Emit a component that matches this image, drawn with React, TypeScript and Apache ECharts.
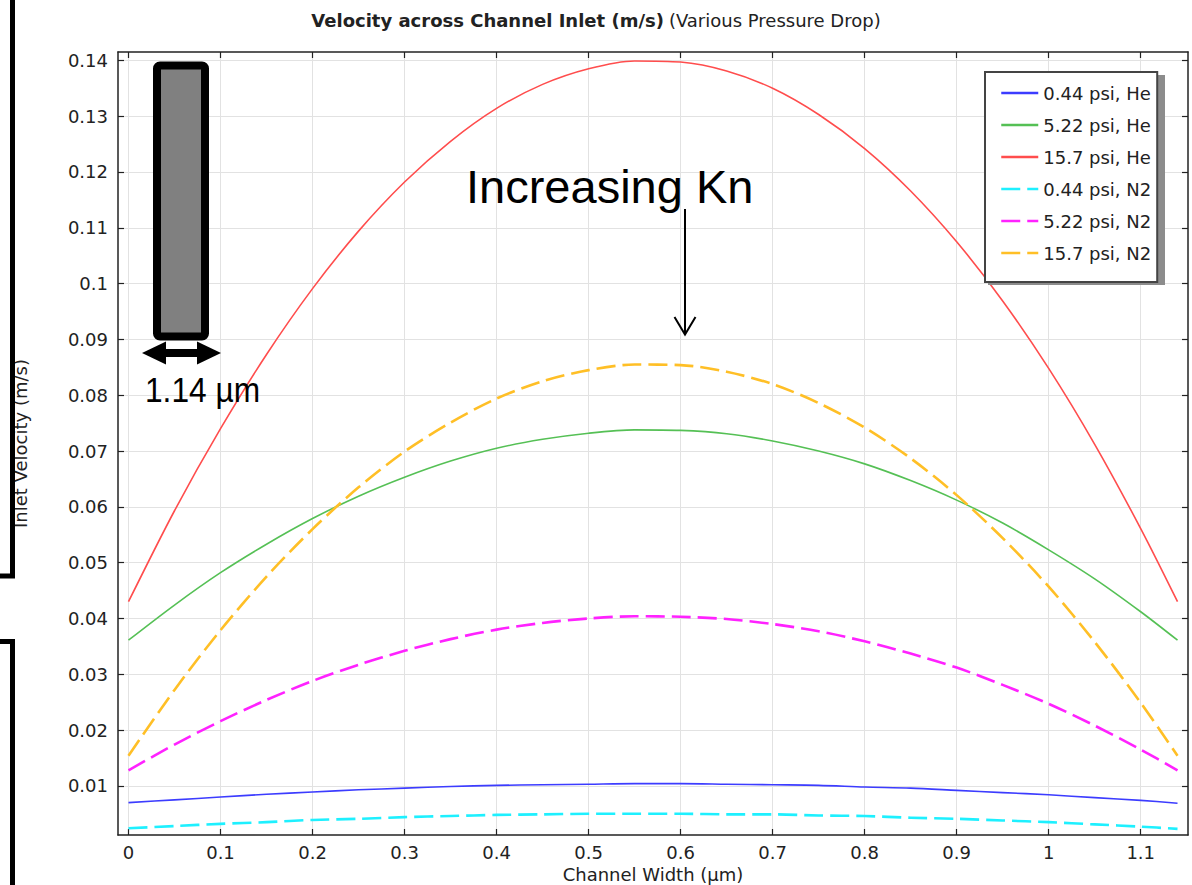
import React, { useEffect, useRef } from "react";
import * as echarts from "echarts";

// Channel width positions (µm)
const xValues = [0, 0.05, 0.1, 0.15, 0.2, 0.25, 0.3, 0.35, 0.4, 0.45, 0.5, 0.55, 0.6, 0.65, 0.7, 0.75, 0.8, 0.85, 0.9, 0.95, 1.0, 1.05, 1.1, 1.14];

// Inlet velocity (m/s)
const he044 = [0.0070, 0.0075, 0.0080, 0.0085, 0.0089, 0.0093, 0.0096, 0.0099, 0.0101, 0.0102, 0.0103, 0.0104, 0.0104, 0.0103, 0.0102, 0.0101, 0.0098, 0.0096, 0.0092, 0.0088, 0.0084, 0.0079, 0.0074, 0.0069];
const he522 = [0.0361, 0.0424, 0.0482, 0.0533, 0.0579, 0.0619, 0.0653, 0.0682, 0.0705, 0.0721, 0.0732, 0.0738, 0.0737, 0.0731, 0.0718, 0.0700, 0.0677, 0.0647, 0.0612, 0.0571, 0.0523, 0.0471, 0.0412, 0.0361];
const he157 = [0.0430, 0.0593, 0.0740, 0.0873, 0.0991, 0.1094, 0.1182, 0.1255, 0.1314, 0.1357, 0.1385, 0.1399, 0.1397, 0.1381, 0.1350, 0.1303, 0.1242, 0.1166, 0.1075, 0.0969, 0.0848, 0.0712, 0.0561, 0.0430];
const n2044 = [0.0024, 0.0028, 0.0032, 0.0035, 0.0039, 0.0041, 0.0044, 0.0046, 0.0048, 0.0049, 0.0050, 0.0050, 0.0050, 0.0049, 0.0049, 0.0047, 0.0046, 0.0043, 0.0041, 0.0038, 0.0035, 0.0031, 0.0027, 0.0023];
const n2522 = [0.0128, 0.0174, 0.0216, 0.0254, 0.0288, 0.0317, 0.0342, 0.0363, 0.0380, 0.0392, 0.0400, 0.0404, 0.0403, 0.0399, 0.0390, 0.0377, 0.0359, 0.0337, 0.0312, 0.0281, 0.0247, 0.0208, 0.0165, 0.0128];
const n2157 = [0.0154, 0.0272, 0.0379, 0.0475, 0.0560, 0.0635, 0.0699, 0.0751, 0.0794, 0.0825, 0.0845, 0.0855, 0.0854, 0.0842, 0.0820, 0.0786, 0.0742, 0.0687, 0.0621, 0.0544, 0.0457, 0.0358, 0.0249, 0.0154];

const seriesNames = ["0.44 psi, He", "5.22 psi, He", "15.7 psi, He", "0.44 psi, N2", "5.22 psi, N2", "15.7 psi, N2"];
const seriesValues = [he044, he522, he157, n2044, n2522, n2157];
const seriesColors = ["#3c3cff", "#55c055", "#ff4d4d", "#1ef0ff", "#ff22ff", "#ffbf26"];
const seriesDashed = [false, false, false, true, true, true];

const xTicks = [0, 0.1, 0.2, 0.3, 0.4, 0.5, 0.6, 0.7, 0.8, 0.9, 1, 1.1];
const yTicks = [0.01, 0.02, 0.03, 0.04, 0.05, 0.06, 0.07, 0.08, 0.09, 0.1, 0.11, 0.12, 0.13, 0.14];

const X_MIN = -0.0114;
const X_MAX = 1.1514;
const Y_MIN = 0.0012;
const Y_MAX = 0.1415;

const FONT = '"DejaVu Sans", sans-serif';
const TEXT = "#222";

export default function App() {
  const ref = useRef<HTMLDivElement>(null);

  useEffect(() => {
    if (!ref.current) return;
    const chart = echarts.init(ref.current, null, { renderer: "svg" });

    const axisLine = { show: true, onZero: false, lineStyle: { color: "#222", width: 1.5 } };
    const fmtX = (v: number) => String(parseFloat(Number(v).toFixed(1)));
    const fmtY = (v: number) => String(parseFloat(Number(v).toFixed(2)));

    const option: any = {
      animation: false,
      backgroundColor: "#fff",
      title: {
        left: "center",
        top: 6,
        text: "{b|Velocity across Channel Inlet (m/s)} {n|(Various Pressure Drop)}",
        textStyle: {
          rich: {
            b: { fontFamily: FONT, fontSize: 18, fontWeight: "bold", color: TEXT },
            n: { fontFamily: FONT, fontSize: 18, fontWeight: "normal", color: TEXT },
          },
        },
      },
      grid: { left: 118, right: 4, top: 52, bottom: 50, containLabel: false, outerBoundsMode: "none" },
      legend: {
        orient: "vertical",
        left: 985,
        top: 72,
        padding: [12, 6, 20, 15],
        itemGap: 14,
        itemWidth: 37,
        itemHeight: 14,
        backgroundColor: "#fff",
        borderColor: "#444",
        borderWidth: 2,
        z: 5,
        itemStyle: { opacity: 0, color: "transparent", borderWidth: 0 },
        lineStyle: { width: 2.5 },
        textStyle: { fontFamily: FONT, fontSize: 18, color: TEXT },
        data: seriesNames,
      },
      xAxis: [
        {
          type: "value",
          min: X_MIN,
          max: X_MAX,
          position: "bottom",
          axisLine,
          axisTick: { show: true, inside: true, length: 6, customValues: xTicks, lineStyle: { color: "#222", width: 1.2 } },
          axisLabel: { show: true, customValues: xTicks, formatter: fmtX, margin: 8, fontFamily: FONT, fontSize: 18, color: TEXT },
          splitLine: { show: true, lineStyle: { color: "#e2e2e2", width: 1 } },
          name: "Channel Width (µm)",
          nameLocation: "middle",
          nameGap: 29,
          nameTextStyle: { fontFamily: FONT, fontSize: 18, color: TEXT },
        },
        {
          type: "value",
          min: X_MIN,
          max: X_MAX,
          position: "top",
          axisLine,
          axisTick: { show: true, inside: true, length: 6, customValues: xTicks, lineStyle: { color: "#222", width: 1.2 } },
          axisLabel: { show: false },
          splitLine: { show: false },
        },
      ],
      yAxis: [
        {
          type: "value",
          min: Y_MIN,
          max: Y_MAX,
          position: "left",
          axisLine,
          axisTick: { show: true, inside: true, length: 6, customValues: yTicks, lineStyle: { color: "#222", width: 1.2 } },
          axisLabel: { show: true, customValues: yTicks, formatter: fmtY, margin: 10, fontFamily: FONT, fontSize: 18, color: TEXT },
          splitLine: { show: true, lineStyle: { color: "#e2e2e2", width: 1 } },
          name: "Inlet Velocity (m/s)",
          nameLocation: "middle",
          nameGap: 89,
          nameTextStyle: { fontFamily: FONT, fontSize: 18, color: TEXT },
        },
        {
          type: "value",
          min: Y_MIN,
          max: Y_MAX,
          position: "right",
          axisLine,
          axisTick: { show: true, inside: true, length: 6, customValues: yTicks, lineStyle: { color: "#222", width: 1.2 } },
          axisLabel: { show: false },
          splitLine: { show: false },
        },
      ],
      series: seriesNames.map((name, i) => ({
        name,
        type: "line",
        xAxisIndex: 0,
        yAxisIndex: 0,
        data: xValues.map((x, k) => [x, seriesValues[i][k]]),
        smooth: 0.3,
        showSymbol: false,
        symbol: "none",
        itemStyle: { color: seriesColors[i] },
        lineStyle: {
          color: seriesColors[i],
          width: seriesDashed[i] ? 2.6 : 1.6,
          type: seriesDashed[i] ? [19, 7] : "solid",
          join: "round",
        },
        z: 2,
      })),
      graphic: [
        // legend shadow
        { type: "rect", z: 4, shape: { x: 988, y: 75, width: 177, height: 210 }, style: { fill: "#8c8c8c" } },
        // cropped brackets at left
        { type: "polyline", z: 10, shape: { points: [[0, 576], [12.5, 576], [12.5, 0]] }, style: { stroke: "#000", lineWidth: 5, fill: null } },
        { type: "polyline", z: 10, shape: { points: [[0, 641.5], [12.5, 641.5], [12.5, 885]] }, style: { stroke: "#000", lineWidth: 5, fill: null } },
        // channel rectangle
        { type: "rect", z: 10, shape: { x: 157, y: 65.5, width: 48, height: 271, r: 3 }, style: { fill: "#808080", stroke: "#000", lineWidth: 8 } },
        // double arrow
        { type: "polygon", z: 10, shape: { points: [[142, 353], [166, 341.5], [166, 364.5]] }, style: { fill: "#000" } },
        { type: "polygon", z: 10, shape: { points: [[221, 353], [197, 341.5], [197, 364.5]] }, style: { fill: "#000" } },
        { type: "rect", z: 10, shape: { x: 164, y: 349, width: 35, height: 8 }, style: { fill: "#000" } },
        {
          type: "text",
          z: 10,
          x: 145,
          y: 389.5,
          scaleX: 0.88,
          style: { text: "1.14 µm", font: '36px "Liberation Sans", sans-serif', fill: "#000", align: "left", verticalAlign: "middle" },
        },
        {
          type: "text",
          z: 10,
          x: 466,
          y: 186,
          style: { text: "Increasing Kn", font: '47px "Liberation Sans", Arial, sans-serif', fill: "#000", align: "left", verticalAlign: "middle" },
        },
        { type: "line", z: 10, shape: { x1: 685, y1: 209, x2: 685, y2: 334 }, style: { stroke: "#000", lineWidth: 2 } },
        { type: "polyline", z: 10, shape: { points: [[674.5, 317], [685, 334.5], [695.5, 317]] }, style: { stroke: "#000", lineWidth: 2, fill: null } },
      ],
    };

    chart.setOption(option);
    return () => chart.dispose();
  }, []);

  return (
    <div
      ref={ref}
      style={{ position: "fixed", left: 0, top: 0, width: 1192, height: 885, background: "#fff" }}
    />
  );
}
